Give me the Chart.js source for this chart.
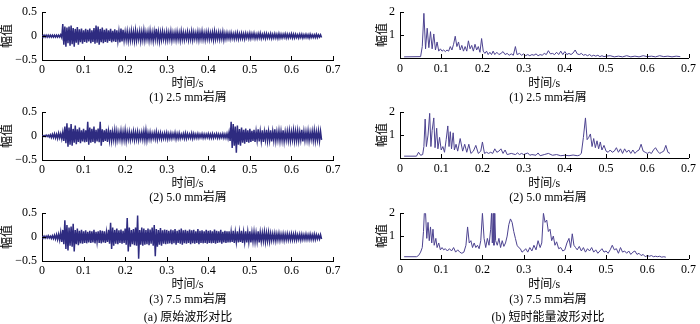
<!DOCTYPE html>
<html>
<head>
<meta charset="utf-8">
<script src="https://cdn.jsdelivr.net/npm/chart.js@4"></script>
<style>
  body { margin: 0; background: #fff; }
  #page { position: relative; width: 700px; height: 324px; overflow: hidden; }
  canvas { position: absolute; }
  .cap { position: absolute; width: 300px; text-align: center; font: 12px 'Liberation Serif', 'Noto Sans CJK SC', serif; color: #000; line-height: 14px; white-space: nowrap; }
</style>
</head>
<body>
<div id="page">
  <canvas id="raw1" width="350" height="92" style="left:0;top:0"></canvas>
  <canvas id="raw2" width="350" height="92" style="left:0;top:100px"></canvas>
  <canvas id="raw3" width="350" height="92" style="left:0;top:201px"></canvas>
  <canvas id="en1" width="350" height="92" style="left:350px;top:0"></canvas>
  <canvas id="en2" width="350" height="92" style="left:350px;top:100px"></canvas>
  <canvas id="en3" width="350" height="92" style="left:350px;top:201px"></canvas>

  <div class="cap" style="left:38px;top:90px">(1) 2.5 mm岩屑</div>
  <div class="cap" style="left:38px;top:190px">(2) 5.0 mm岩屑</div>
  <div class="cap" style="left:38px;top:292px">(3) 7.5 mm岩屑</div>
  <div class="cap" style="left:38px;top:310px">(a) 原始波形对比</div>
  <div class="cap" style="left:398px;top:90px">(1) 2.5 mm岩屑</div>
  <div class="cap" style="left:398px;top:190px">(2) 5.0 mm岩屑</div>
  <div class="cap" style="left:398px;top:292px">(3) 7.5 mm岩屑</div>
  <div class="cap" style="left:398px;top:310px">(b) 短时能量波形对比</div>
</div>

<script>
"use strict"

// Raw waveform envelopes, one value every 0.005 s from 0 to 0.67 s

const rawStep = 0.005;

const raw25Up = [
  0.02,0.02,0.02,0.02,0.02,0.02,0.02,0.02,0.02,0.03,
  0.25,0.2,0.18,0.2,0.22,0.17,0.15,0.19,0.14,0.16,
  0.12,0.15,0.13,0.16,0.12,0.17,0.22,0.2,0.15,0.18,
  0.13,0.16,0.12,0.15,0.11,0.14,0.12,0.1,0.16,0.13,
  0.09,0.1,0.08,0.11,0.09,0.12,0.08,0.1,0.09,0.12,
  0.08,0.09,0.11,0.08,0.1,0.15,0.09,0.08,0.1,0.07,
  0.09,0.08,0.1,0.07,0.08,0.09,0.07,0.1,0.08,0.07,
  0.09,0.07,0.1,0.08,0.07,0.09,0.08,0.1,0.07,0.08,
  0.09,0.07,0.08,0.1,0.07,0.08,0.07,0.09,0.06,0.07,
  0.06,0.07,0.05,0.06,0.07,0.05,0.06,0.05,0.06,0.05,
  0.06,0.05,0.06,0.04,0.05,0.06,0.04,0.05,0.05,0.04,
  0.05,0.04,0.05,0.04,0.05,0.04,0.04,0.05,0.04,0.04,
  0.05,0.04,0.04,0.03,0.04,0.04,0.03,0.04,0.03,0.04,
  0.03,0.03,0.04,0.03,0.03
];
const raw25Low = [
  -0.02,-0.02,-0.02,-0.02,-0.02,-0.02,-0.02,-0.02,-0.02,-0.03,
  -0.18,-0.22,-0.15,-0.2,-0.17,-0.22,-0.14,-0.18,-0.13,-0.16,
  -0.12,-0.14,-0.11,-0.15,-0.12,-0.16,-0.14,-0.18,-0.13,-0.15,
  -0.12,-0.14,-0.1,-0.13,-0.11,-0.12,-0.1,-0.13,-0.11,-0.09,
  -0.08,-0.1,-0.09,-0.08,-0.1,-0.09,-0.07,-0.1,-0.08,-0.09,
  -0.07,-0.09,-0.08,-0.1,-0.07,-0.08,-0.11,-0.08,-0.07,-0.09,
  -0.08,-0.07,-0.09,-0.07,-0.08,-0.07,-0.09,-0.07,-0.08,-0.06,
  -0.08,-0.07,-0.08,-0.06,-0.07,-0.08,-0.06,-0.07,-0.08,-0.06,
  -0.07,-0.06,-0.08,-0.07,-0.06,-0.07,-0.06,-0.08,-0.06,-0.05,
  -0.06,-0.05,-0.06,-0.05,-0.06,-0.05,-0.05,-0.06,-0.04,-0.05,
  -0.05,-0.04,-0.05,-0.05,-0.04,-0.05,-0.04,-0.05,-0.04,-0.04,
  -0.05,-0.04,-0.04,-0.05,-0.04,-0.04,-0.03,-0.04,-0.04,-0.03,
  -0.04,-0.04,-0.03,-0.04,-0.03,-0.04,-0.03,-0.03,-0.04,-0.03,
  -0.03,-0.03,-0.03,-0.02,-0.03
];

const raw50Up = [
  0.01,0.01,0.02,0.02,0.03,0.04,0.05,0.04,0.06,0.05,
  0.08,0.2,0.27,0.18,0.25,0.15,0.22,0.14,0.18,0.12,
  0.15,0.12,0.3,0.18,0.15,0.2,0.13,0.16,0.3,0.14,
  0.12,0.15,0.1,0.13,0.09,0.12,0.1,0.08,0.11,0.09,
  0.12,0.08,0.09,0.07,0.1,0.08,0.09,0.07,0.08,0.1,
  0.12,0.07,0.08,0.06,0.07,0.09,0.06,0.07,0.05,0.06,
  0.07,0.05,0.06,0.05,0.07,0.05,0.06,0.04,0.05,0.06,
  0.05,0.04,0.06,0.05,0.04,0.05,0.04,0.05,0.04,0.04,
  0.05,0.04,0.05,0.04,0.05,0.04,0.04,0.05,0.04,0.05,
  0.08,0.3,0.25,0.2,0.22,0.15,0.18,0.13,0.16,0.12,
  0.15,0.11,0.13,0.1,0.14,0.1,0.12,0.09,0.13,0.1,
  0.12,0.1,0.14,0.09,0.11,0.1,0.12,0.09,0.1,0.11,
  0.09,0.12,0.1,0.11,0.09,0.13,0.1,0.09,0.11,0.08,
  0.1,0.12,0.09,0.11,0.1
];
const raw50Low = [
  -0.01,-0.01,-0.01,-0.02,-0.03,-0.03,-0.04,-0.05,-0.04,-0.06,
  -0.1,-0.15,-0.22,-0.18,-0.2,-0.14,-0.17,-0.12,-0.15,-0.11,
  -0.13,-0.12,-0.18,-0.14,-0.12,-0.15,-0.11,-0.13,-0.2,-0.12,
  -0.1,-0.12,-0.09,-0.1,-0.08,-0.1,-0.08,-0.07,-0.09,-0.08,
  -0.1,-0.07,-0.08,-0.06,-0.08,-0.07,-0.08,-0.06,-0.07,-0.08,
  -0.09,-0.06,-0.07,-0.05,-0.06,-0.07,-0.05,-0.06,-0.05,-0.05,
  -0.06,-0.05,-0.05,-0.04,-0.06,-0.05,-0.05,-0.04,-0.05,-0.05,
  -0.04,-0.04,-0.05,-0.04,-0.04,-0.04,-0.03,-0.04,-0.04,-0.03,
  -0.04,-0.04,-0.04,-0.03,-0.04,-0.04,-0.03,-0.04,-0.04,-0.05,
  -0.1,-0.25,-0.2,-0.35,-0.18,-0.2,-0.14,-0.16,-0.12,-0.14,
  -0.12,-0.1,-0.12,-0.09,-0.11,-0.1,-0.12,-0.08,-0.1,-0.09,
  -0.11,-0.09,-0.1,-0.08,-0.1,-0.09,-0.11,-0.08,-0.09,-0.1,
  -0.08,-0.1,-0.09,-0.1,-0.08,-0.11,-0.09,-0.08,-0.1,-0.07,
  -0.09,-0.1,-0.08,-0.1,-0.08
];

const raw75Up = [
  0.02,0.02,0.02,0.03,0.02,0.03,0.04,0.05,0.06,0.1,
  0.15,0.35,0.25,0.2,0.22,0.28,0.15,0.18,0.13,0.15,
  0.12,0.14,0.11,0.13,0.12,0.15,0.11,0.12,0.14,0.13,
  0.12,0.1,0.15,0.3,0.2,0.15,0.18,0.14,0.16,0.13,
  0.18,0.4,0.2,0.15,0.17,0.2,0.45,0.15,0.2,0.18,
  0.15,0.18,0.16,0.2,0.25,0.17,0.15,0.19,0.14,0.16,
  0.15,0.13,0.16,0.14,0.17,0.13,0.15,0.18,0.14,0.15,
  0.13,0.16,0.14,0.15,0.12,0.17,0.13,0.14,0.12,0.15,
  0.13,0.14,0.12,0.16,0.13,0.12,0.15,0.11,0.13,0.12,
  0.12,0.11,0.13,0.1,0.12,0.11,0.13,0.1,0.12,0.11,
  0.12,0.1,0.11,0.09,0.12,0.1,0.09,0.11,0.09,0.1,
  0.08,0.07,0.08,0.07,0.08,0.06,0.07,0.06,0.07,0.06,
  0.07,0.06,0.07,0.05,0.06,0.06,0.05,0.06,0.05,0.06,
  0.05,0.06,0.05,0.04,0.05
];
const raw75Low = [
  -0.02,-0.02,-0.02,-0.02,-0.03,-0.03,-0.04,-0.05,-0.06,-0.1,
  -0.15,-0.25,-0.28,-0.18,-0.2,-0.3,-0.15,-0.17,-0.13,-0.14,
  -0.12,-0.13,-0.11,-0.12,-0.11,-0.13,-0.1,-0.12,-0.13,-0.11,
  -0.12,-0.1,-0.14,-0.25,-0.18,-0.14,-0.15,-0.12,-0.14,-0.12,
  -0.16,-0.3,-0.2,-0.15,-0.17,-0.18,-0.45,-0.16,-0.18,-0.16,
  -0.15,-0.17,-0.14,-0.18,-0.4,-0.2,-0.16,-0.18,-0.14,-0.15,
  -0.14,-0.13,-0.15,-0.13,-0.16,-0.12,-0.14,-0.16,-0.13,-0.14,
  -0.12,-0.15,-0.13,-0.14,-0.12,-0.15,-0.12,-0.13,-0.12,-0.14,
  -0.12,-0.13,-0.12,-0.14,-0.12,-0.11,-0.14,-0.11,-0.12,-0.11,
  -0.11,-0.1,-0.12,-0.1,-0.11,-0.1,-0.12,-0.1,-0.11,-0.1,
  -0.11,-0.09,-0.1,-0.09,-0.11,-0.09,-0.08,-0.1,-0.08,-0.09,
  -0.07,-0.07,-0.08,-0.06,-0.07,-0.06,-0.07,-0.06,-0.06,-0.06,
  -0.06,-0.06,-0.06,-0.05,-0.06,-0.05,-0.05,-0.05,-0.05,-0.05,
  -0.05,-0.05,-0.04,-0.04,-0.04
];

// Short-time energy, time / value pairs

const en25Time = [0.01,0.05,0.054,0.058,0.062,0.066,0.07,0.074,0.078,0.082,0.086,0.09,0.094,0.098,0.102,0.106,0.11,0.114,0.118,0.122,0.126,0.13,0.134,0.138,0.142,0.146,0.15,0.154,0.158,0.162,0.166,0.17,0.174,0.178,0.182,0.186,0.19,0.194,0.198,0.202,0.206,0.21,0.214,0.218,0.222,0.226,0.23,0.235,0.24,0.245,0.25,0.255,0.26,0.265,0.27,0.275,0.28,0.284,0.29,0.295,0.3,0.305,0.31,0.315,0.32,0.325,0.33,0.335,0.34,0.345,0.35,0.355,0.36,0.365,0.37,0.375,0.38,0.385,0.39,0.395,0.4,0.405,0.41,0.415,0.42,0.425,0.43,0.435,0.44,0.445,0.45,0.455,0.46,0.465,0.47,0.475,0.48,0.485,0.49,0.495,0.5,0.51,0.52,0.53,0.54,0.55,0.56,0.57,0.58,0.59,0.6,0.61,0.62,0.63,0.64,0.65,0.66,0.67,0.68];
const en25Val  = [0.05,0.06,0.5,1.95,0.4,1.3,0.45,1.15,0.4,1.05,0.35,0.7,0.3,0.4,0.3,0.35,0.28,0.35,0.3,0.5,0.35,0.6,0.95,0.5,0.7,0.35,0.55,0.3,0.5,0.3,0.75,0.4,0.55,0.3,0.6,0.35,0.5,0.25,0.85,0.3,0.2,0.3,0.15,0.25,0.15,0.3,0.15,0.25,0.15,0.2,0.28,0.15,0.2,0.12,0.18,0.12,0.5,0.15,0.2,0.12,0.18,0.1,0.15,0.1,0.15,0.12,0.18,0.1,0.15,0.12,0.2,0.15,0.32,0.18,0.2,0.15,0.25,0.15,0.3,0.15,0.28,0.15,0.2,0.15,0.22,0.35,0.18,0.15,0.2,0.12,0.15,0.1,0.15,0.08,0.12,0.08,0.12,0.06,0.1,0.06,0.08,0.1,0.05,0.08,0.05,0.1,0.05,0.08,0.05,0.1,0.06,0.08,0.05,0.1,0.06,0.08,0.05,0.08,0.06];

const en50Time = [0.01,0.04,0.045,0.05,0.055,0.058,0.061,0.064,0.068,0.072,0.075,0.078,0.082,0.085,0.089,0.092,0.096,0.1,0.104,0.108,0.112,0.116,0.119,0.122,0.125,0.129,0.132,0.136,0.14,0.146,0.152,0.157,0.162,0.167,0.172,0.178,0.184,0.19,0.196,0.2,0.205,0.21,0.215,0.22,0.225,0.23,0.235,0.24,0.245,0.25,0.255,0.26,0.27,0.28,0.285,0.29,0.295,0.3,0.31,0.315,0.32,0.33,0.335,0.34,0.35,0.36,0.37,0.38,0.39,0.4,0.41,0.42,0.43,0.435,0.44,0.445,0.45,0.454,0.458,0.462,0.466,0.47,0.474,0.478,0.482,0.486,0.49,0.495,0.5,0.505,0.51,0.515,0.52,0.525,0.53,0.535,0.54,0.545,0.55,0.555,0.56,0.565,0.57,0.575,0.58,0.585,0.59,0.595,0.6,0.605,0.61,0.615,0.62,0.625,0.63,0.635,0.64,0.645,0.65,0.655];
const en50Val  = [0.08,0.08,0.25,0.12,0.15,0.5,1.7,0.5,1.0,1.95,0.5,1.2,1.75,0.45,1.3,0.4,0.9,0.35,0.5,0.25,0.8,1.4,0.5,1.15,0.4,1.1,0.35,0.6,0.3,0.85,0.3,0.6,0.25,0.6,0.2,0.3,0.55,0.2,0.3,0.7,0.2,0.25,0.2,0.25,0.2,0.4,0.25,0.3,0.4,0.2,0.35,0.15,0.2,0.15,0.22,0.15,0.2,0.15,0.22,0.12,0.15,0.12,0.22,0.1,0.15,0.2,0.12,0.15,0.1,0.12,0.1,0.13,0.1,0.12,0.2,0.9,1.75,0.8,0.9,1.05,0.5,0.85,0.45,0.75,0.4,0.7,0.35,0.55,0.3,0.25,0.35,0.25,0.3,0.45,0.25,0.4,0.2,0.4,0.25,0.35,0.2,0.35,0.2,0.3,0.35,0.6,0.3,0.25,0.2,0.25,0.2,0.35,0.45,0.3,0.2,0.25,0.3,0.55,0.25,0.2];

const en75Time = [0.01,0.04,0.045,0.05,0.054,0.057,0.059,0.062,0.065,0.068,0.071,0.074,0.077,0.08,0.083,0.087,0.09,0.094,0.098,0.102,0.106,0.11,0.115,0.12,0.125,0.13,0.135,0.14,0.145,0.15,0.155,0.16,0.164,0.168,0.172,0.176,0.18,0.184,0.188,0.192,0.196,0.2,0.204,0.208,0.212,0.216,0.22,0.222,0.224,0.226,0.228,0.23,0.232,0.236,0.24,0.244,0.248,0.252,0.256,0.26,0.264,0.268,0.272,0.276,0.28,0.284,0.288,0.292,0.296,0.3,0.305,0.31,0.315,0.32,0.325,0.33,0.335,0.34,0.344,0.348,0.352,0.356,0.36,0.364,0.368,0.372,0.376,0.38,0.385,0.39,0.395,0.4,0.405,0.41,0.414,0.418,0.422,0.426,0.43,0.435,0.44,0.445,0.45,0.455,0.46,0.465,0.47,0.475,0.48,0.485,0.49,0.495,0.5,0.505,0.51,0.515,0.52,0.525,0.53,0.535,0.54,0.545,0.55,0.555,0.56,0.565,0.57,0.575,0.58,0.585,0.59,0.595,0.6,0.605,0.61,0.615,0.62,0.625,0.63,0.635,0.64,0.645];
const en75Val  = [0.1,0.1,0.15,0.3,0.5,1.2,2.0,2.0,0.9,1.6,0.8,1.4,0.7,1.3,0.6,0.9,0.5,0.7,0.4,0.5,0.4,0.45,0.35,0.45,0.35,0.5,0.3,0.4,0.3,0.25,0.3,0.6,1.4,0.7,0.8,0.5,0.7,0.5,0.6,0.45,0.8,2.0,0.9,0.5,0.9,0.6,1.3,2.0,0.7,2.0,0.6,2.0,0.8,0.6,0.9,0.5,0.8,0.55,0.7,1.0,1.5,1.75,1.6,1.2,0.9,0.6,0.5,0.45,0.3,0.35,0.45,0.3,0.5,0.35,0.6,0.4,0.8,0.5,0.7,2.0,1.6,1.7,1.2,1.3,0.8,1.0,0.6,0.75,0.45,0.5,0.35,0.4,0.7,0.9,0.5,1.1,0.6,0.5,0.4,0.55,0.35,0.5,0.3,0.45,0.35,0.5,0.3,0.4,0.25,0.35,0.45,0.3,0.35,0.25,0.4,0.6,0.4,0.45,0.25,0.5,0.3,0.35,0.25,0.35,0.2,0.3,0.35,0.2,0.25,0.15,0.2,0.1,0.15,0.12,0.15,0.1,0.12,0.1,0.12,0.08,0.1,0.08];

const xTicks = [0, 0.1, 0.2, 0.3, 0.4, 0.5, 0.6, 0.7];

const fontFamily = "'Liberation Serif', 'Noto Sans CJK SC', serif";
const rawColor = '#2e2b80';
const energyColor = '#4d4390';


// Waveform line: upper value at each sample, lower value half a step later

function rawPoints(up, low) {
    const pts = [];
    up.forEach((u, i) => {
        pts.push({x: i * rawStep, y: u});
        pts.push({x: i * rawStep + rawStep / 2, y: low[i]});
    });
    return pts;
}

function pairPoints(time, val) {
    return time.map((t, i) => ({x: t, y: val[i]}));
}


// Inward tick marks, MATLAB style

const inwardTicks = {
    id: 'inwardTicks',
    afterDatasetsDraw(chart) {
        const {ctx, chartArea: a, scales: {x, y}} = chart;
        ctx.save();
        ctx.strokeStyle = '#000';
        ctx.lineWidth = 1;
        ctx.beginPath();
        x.ticks.forEach(t => {
            const px = Math.round(x.getPixelForValue(t.value)) + 0.5;
            ctx.moveTo(px, a.bottom);
            ctx.lineTo(px, a.bottom - 4);
        });
        y.ticks.forEach(t => {
            const py = Math.round(y.getPixelForValue(t.value)) + 0.5;
            ctx.moveTo(a.left, py);
            ctx.lineTo(a.left + 4, py);
        });
        ctx.stroke();
        ctx.restore();
    }
};


function makeChart(id, points, opt) {
    return new Chart(document.getElementById(id), {
        type: 'line',
        data: {
            datasets: [{
                data: points,
                borderColor: opt.color,
                borderWidth: opt.lineWidth,
                pointRadius: 0,
                tension: 0,
                fill: false
            }]
        },
        options: {
            responsive: false,
            animation: false,
            devicePixelRatio: 1,
            layout: { padding: { left: 0, right: opt.padRight, top: 7, bottom: 0 } },
            plugins: { legend: { display: false }, tooltip: { enabled: false } },
            scales: {
                x: {
                    type: 'linear',
                    min: 0,
                    max: 0.7,
                    afterBuildTicks: s => { s.ticks = xTicks.map(v => ({value: v})); },
                    afterFit: s => { s.height = opt.xHeight; },
                    ticks: {
                        color: '#000',
                        padding: opt.xPad,
                        maxRotation: 0,
                        font: { family: fontFamily, size: 12 },
                        callback: v => v === 0 ? '0' : v.toFixed(1)
                    },
                    grid: { display: false, drawTicks: false, tickLength: 0 },
                    border: { display: true, color: '#000', width: 1 },
                    title: {
                        display: true,
                        text: '时间/s',
                        color: '#000',
                        padding: { top: 0, bottom: 1 },
                        font: { family: fontFamily, size: 12 }
                    }
                },
                y: {
                    type: 'linear',
                    min: opt.yMin,
                    max: opt.yMax,
                    afterBuildTicks: s => { s.ticks = opt.yTicks.map(v => ({value: v})); },
                    afterFit: s => { s.width = opt.yWidth; },
                    ticks: {
                        color: '#000',
                        padding: 5,
                        font: { family: fontFamily, size: 12 },
                        callback: opt.yLabel
                    },
                    grid: { display: false, drawTicks: false, tickLength: 0 },
                    border: { display: true, color: '#000', width: 1 },
                    title: {
                        display: true,
                        text: '幅值',
                        color: '#000',
                        padding: { top: opt.yTitlePad, bottom: 0 },
                        font: { family: fontFamily, size: 12 }
                    }
                }
            }
        },
        plugins: [inwardTicks]
    });
}


// Raw waveforms (left column)

const rawOpt = {
    color: rawColor, lineWidth: 1.5, padRight: 17, xHeight: 32, xPad: 3,
    yMin: -0.5, yMax: 0.5, yTicks: [-0.5, 0, 0.5], yWidth: 42, yTitlePad: 1,
    yLabel: v => v === 0 ? '0' : (v < 0 ? '\u2212' + Math.abs(v) : String(v))
};

makeChart('raw1', rawPoints(raw25Up, raw25Low), rawOpt);
makeChart('raw2', rawPoints(raw50Up, raw50Low), rawOpt);
makeChart('raw3', rawPoints(raw75Up, raw75Low), rawOpt);


// Short-time energy (right column)

const enOpt = {
    color: energyColor, lineWidth: 1, padRight: 7, xHeight: 34, xPad: 4,
    yMin: 0, yMax: 2, yTicks: [0, 1, 2], yWidth: 50, yTitlePad: 26,
    yLabel: v => v === 0 ? '' : String(v)
};

makeChart('en1', pairPoints(en25Time, en25Val), enOpt);
makeChart('en2', pairPoints(en50Time, en50Val), enOpt);
makeChart('en3', pairPoints(en75Time, en75Val), enOpt);
</script>
</body>
</html>
